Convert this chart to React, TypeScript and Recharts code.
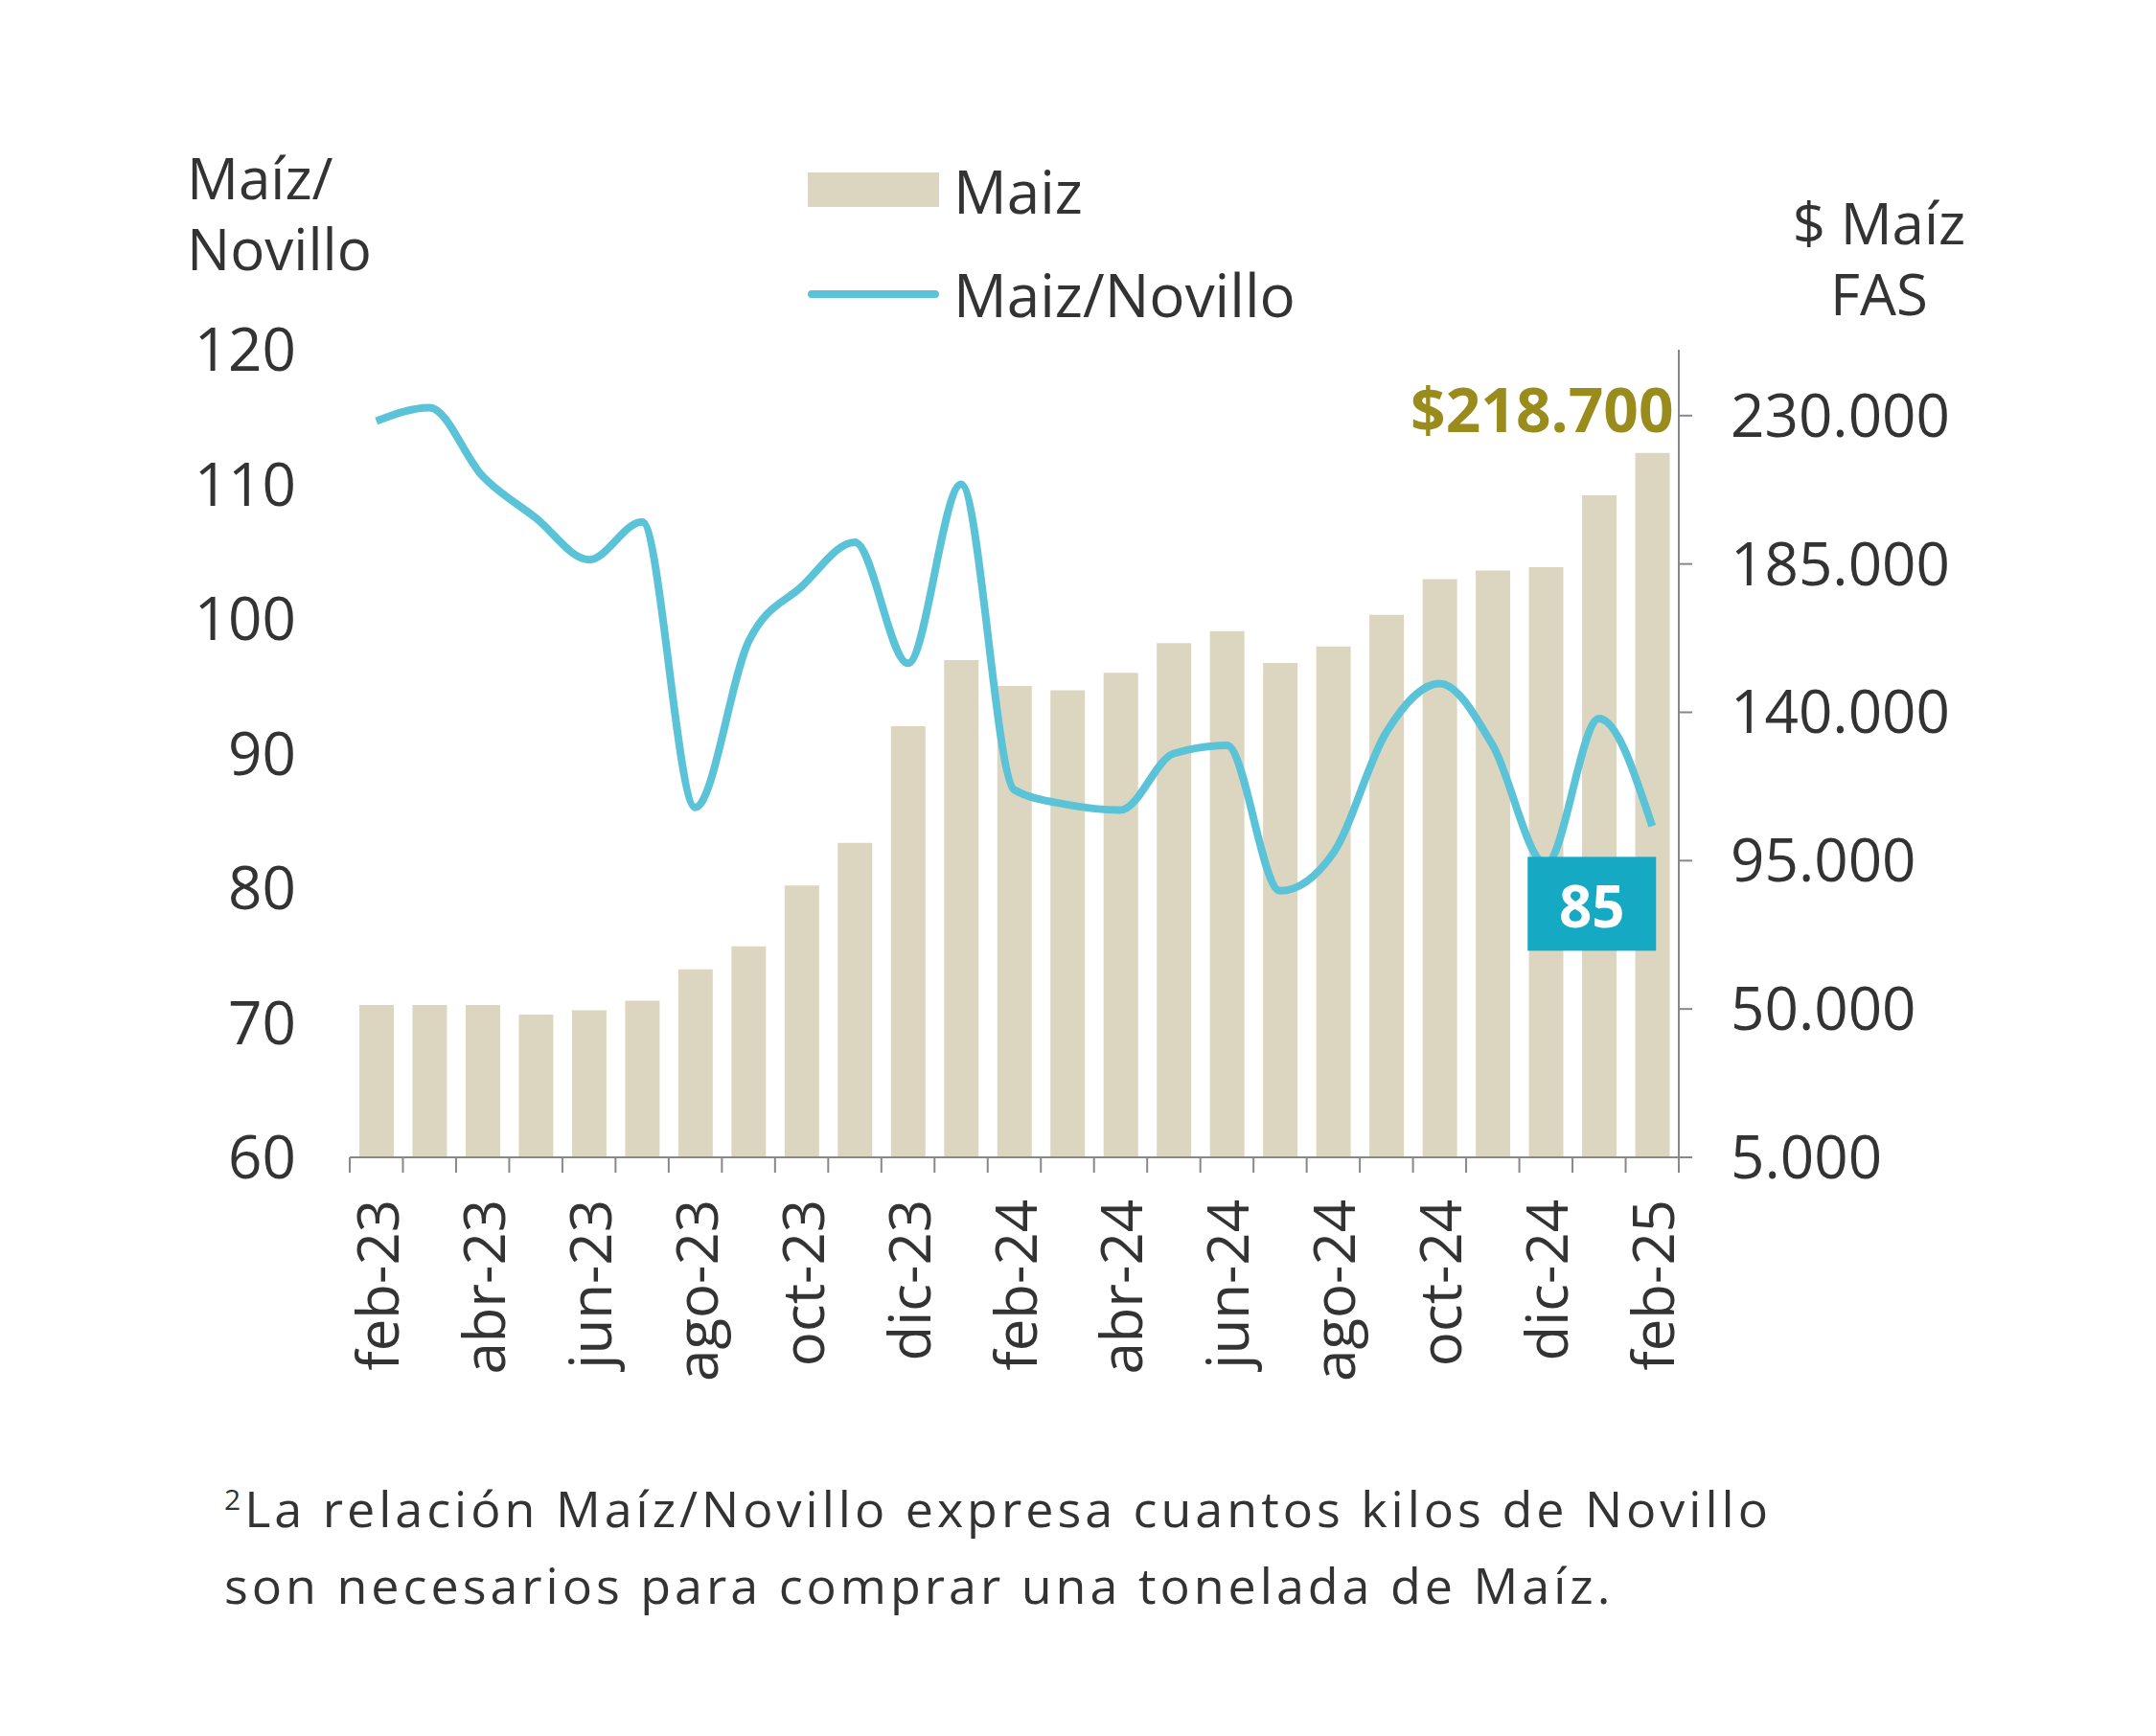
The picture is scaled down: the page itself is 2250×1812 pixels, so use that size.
import React from 'react';
import { ComposedChart, Bar, Line, XAxis, YAxis, LabelList } from 'recharts';

const months = ['feb-23','mar-23','abr-23','may-23','jun-23','jul-23','ago-23','sep-23','oct-23','nov-23','dic-23','ene-24','feb-24','mar-24','abr-24','may-24','jun-24','jul-24','ago-24','sep-24','oct-24','nov-24','dic-24','ene-25','feb-25'];
const maiz = [51200,51200,51200,48300,49600,52500,62000,69000,87500,100400,135800,155800,148000,146700,152000,161000,164600,155000,160000,169600,180400,183000,184000,205800,218700];
const ratio = [114.7,115.7,110.6,107.5,104.4,107.2,86,98.3,102.4,105.7,96.7,110,87.3,86.2,85.8,90,90.6,79.8,82.6,91.6,95.2,90.6,81.8,92.6,84.6];
const leftTicks = [60,70,80,90,100,110,120];
const rightTicks = [5000,50000,95000,140000,185000,230000];

const data = months.map((m, i) => ({ m, maiz: maiz[i], ratio: ratio[i] }));
const FONT = '"Open Sans", sans-serif';
const fmt = (v: number) => v.toLocaleString('de-DE');
const BAND = (1752 - 365) / months.length;

const XTick = (p: any) => {
  const { x, y, index, payload } = p;
  return (
    <g>
      <line x1={x - BAND / 2} x2={x - BAND / 2} y1={y - 8} y2={y + 8} stroke="#888" strokeWidth={2} />
      {index === months.length - 1 && <line x1={x + BAND / 2} x2={x + BAND / 2} y1={y - 8} y2={y + 8} stroke="#888" strokeWidth={2} />}
      {index % 2 === 0 && (
        <text transform={`translate(${x},${y + 36}) rotate(-90)`} textAnchor="end" dominantBaseline="central" fontSize={60} fill="#333" fontFamily={FONT}>{payload.value}</text>
      )}
    </g>
  );
};

const BarLabel = (p: any) => {
  const { x, y, width, index } = p;
  if (index !== months.length - 1) return null;
  return <text x={x + width + 4} y={y - 22} textAnchor="end" fontSize={64} fontWeight={700} fill="#9a8c1c" fontFamily={FONT}>$218.700</text>;
};

const LineLabel = (p: any) => {
  const { x, y, index } = p;
  if (index !== months.length - 1) return null;
  return (
    <g>
      <rect x={x - 130} y={y + 32} width={134} height={98} fill="#16a9c4" />
      <text x={x - 63} y={y + 83} textAnchor="middle" dominantBaseline="central" fontSize={60} fontWeight={700} fill="#fff" fontFamily={FONT}>85</text>
    </g>
  );
};

const abs = (s: React.CSSProperties): React.CSSProperties => ({ position: 'absolute', fontFamily: FONT, color: '#333', whiteSpace: 'nowrap', ...s });

export default function App() {
  return (
    <div style={{ position: 'absolute', left: 0, top: 0, width: 2250, height: 1812, background: '#fff' }}>
      <div style={abs({ left: 195, top: 148, fontSize: 60, lineHeight: '74px' })}>Maíz/<br />Novillo</div>
      <div style={abs({ left: 1811, width: 300, top: 195, fontSize: 60, lineHeight: '74px', textAlign: 'center' })}>$ Maíz<br />FAS</div>
      <div style={abs({ left: 843, top: 180, width: 137, height: 36, background: '#dcd6c0' })} />
      <div style={abs({ left: 995, top: 160, fontSize: 62, lineHeight: '78px' })}>Maiz</div>
      <div style={abs({ left: 843, top: 303, width: 137, height: 8, background: '#5bc3d8', borderRadius: 4 })} />
      <div style={abs({ left: 995, top: 268, fontSize: 62, lineHeight: '78px' })}>Maiz/Novillo</div>
      <div style={abs({ left: 234, top: 1525, fontSize: 52, lineHeight: '80px', letterSpacing: 4 })}>
        <sup style={{ fontSize: 30 }}>2</sup>La relación Maíz/Novillo expresa cuantos kilos de Novillo<br />son necesarios para comprar una tonelada de Maíz.
      </div>
      <ComposedChart width={2250} height={1812} data={data} margin={{ top: 365, bottom: 0, left: 0, right: 0 }} barCategoryGap="18%">
        <XAxis dataKey="m" interval={0} tick={<XTick />} tickLine={false} axisLine={{ stroke: '#888', strokeWidth: 2 }} height={604} />
        <YAxis yAxisId="l" domain={[60, 120]} ticks={leftTicks} interval={0} width={365} axisLine={false} tickLine={false} tick={{ fontSize: 62, fill: '#333', fontFamily: FONT }} tickMargin={50} />
        <YAxis yAxisId="r" orientation="right" domain={[5000, 250000]} ticks={rightTicks} interval={0} width={498} tickFormatter={fmt} axisLine={{ stroke: '#888', strokeWidth: 2 }} tickLine={{ stroke: '#888', strokeWidth: 2 }} tickSize={14} tick={{ fontSize: 62, fill: '#333', fontFamily: FONT }} tickMargin={40} />
        <Bar yAxisId="r" dataKey="maiz" fill="#dcd6c0" isAnimationActive={false}>
          <LabelList dataKey="maiz" content={<BarLabel />} />
        </Bar>
        <Line yAxisId="l" dataKey="ratio" type="monotone" stroke="#5bc3d8" strokeWidth={8} dot={false} isAnimationActive={false}>
          <LabelList dataKey="ratio" content={<LineLabel />} />
        </Line>
      </ComposedChart>
    </div>
  );
}
